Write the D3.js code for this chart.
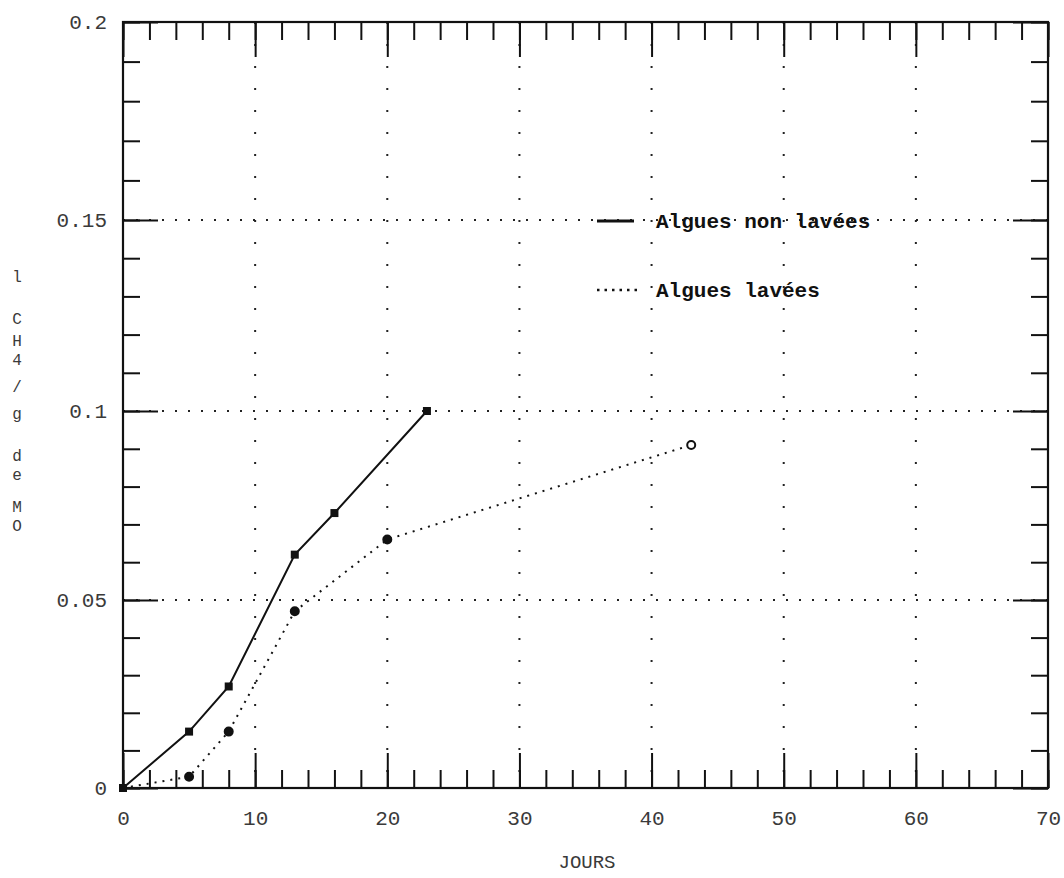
<!DOCTYPE html>
<html>
<head>
<meta charset="utf-8">
<script src="https://cdn.jsdelivr.net/npm/d3@7"></script>
<style>
  html, body { margin: 0; padding: 0; background: #fff; }
  svg { display: block; }
  .mono { font-family: "Liberation Mono", "DejaVu Sans Mono", monospace; }
</style>
</head>
<body>
<svg id="chart" width="1064" height="878"></svg>
<script>
// Production de méthane : algues non lavées / lavées
const joursNonLavees = [0, 5, 8, 13, 16, 23];
const ch4NonLavees   = [0, 0.015, 0.027, 0.062, 0.073, 0.1];

const joursLavees = [0, 5, 8, 13, 20, 43];
const ch4Lavees   = [0, 0.003, 0.015, 0.047, 0.066, 0.091];

const xMajorTicks = [0, 10, 20, 30, 40, 50, 60, 70];
const xTickLabels = ["0", "10", "20", "30", "40", "50", "60", "70"];
const yMajorTicks = [0, 0.05, 0.1, 0.15, 0.2];
const yTickLabels = ["0", "0.05", "0.1", "0.15", "0.2"];

const legendLabels = ["Algues non lavées", "Algues lavées"];
const xTitle = "JOURS";
const yTitleChars = ["l", "C", "H", "4", "/", "g", "d", "e", "M", "O"];

const svg = d3.select("#chart");
const L = 123, R = 1048, T = 22, B = 788;

const x = d3.scaleLinear().domain([0, 70]).range([L, R]);
// plotter paper is slightly stretched toward the top: piecewise-linear y scale
const y = d3.scaleLinear().domain(yMajorTicks).range([B, 600, 411, 220, T]);

const xMinor = d3.range(0, 71, 2);
const yMinor = d3.range(0, 21, 1).map(v => v / 100);

// dotted grid
const grid = svg.append("g").attr("stroke", "#222").attr("stroke-width", 2);
grid.selectAll("line.v").data(xMajorTicks.filter(d => d > 0 && d < 70)).join("line")
  .attr("x1", d => x(d)).attr("x2", d => x(d))
  .attr("y1", T).attr("y2", B)
  .attr("stroke-dasharray", "2,20");
grid.selectAll("line.h").data(yMajorTicks.filter(d => d > 0 && d < 0.2)).join("line")
  .attr("x1", L).attr("x2", R)
  .attr("y1", d => y(d)).attr("y2", d => y(d))
  .attr("stroke-dasharray", "2,11");

function styleAxis(g) {
  g.select(".domain").remove();
  g.selectAll(".tick line").attr("stroke", "#111").attr("stroke-width", 2);
}

// bottom axis
svg.append("g").attr("transform", `translate(0,${B})`)
  .call(d3.axisBottom(x).tickValues(xMinor).tickSize(-18).tickFormat(""))
  .call(styleAxis);
svg.append("g").attr("transform", `translate(0,${B})`)
  .call(d3.axisBottom(x).tickValues(xMajorTicks).tickSize(-35).tickPadding(22)
    .tickFormat((d, i) => xTickLabels[i]))
  .call(styleAxis)
  .call(g => g.selectAll("text").attr("class", "mono")
    .attr("font-size", 21).attr("fill", "#3a3a3a"));

// top axis
svg.append("g").attr("transform", `translate(0,${T})`)
  .call(d3.axisTop(x).tickValues(xMinor).tickSize(-18).tickFormat(""))
  .call(styleAxis);
svg.append("g").attr("transform", `translate(0,${T})`)
  .call(d3.axisTop(x).tickValues(xMajorTicks).tickSize(-35).tickFormat(""))
  .call(styleAxis);

// left axis
svg.append("g").attr("transform", `translate(${L},0)`)
  .call(d3.axisLeft(y).tickValues(yMinor).tickSize(-17).tickFormat(""))
  .call(styleAxis);
svg.append("g").attr("transform", `translate(${L},0)`)
  .call(d3.axisLeft(y).tickValues(yMajorTicks).tickSize(-35).tickPadding(16)
    .tickFormat((d, i) => yTickLabels[i]))
  .call(styleAxis)
  .call(g => g.selectAll("text").attr("class", "mono")
    .attr("font-size", 21).attr("fill", "#3a3a3a"));

// right axis
svg.append("g").attr("transform", `translate(${R},0)`)
  .call(d3.axisRight(y).tickValues(yMinor).tickSize(-17).tickFormat(""))
  .call(styleAxis);
svg.append("g").attr("transform", `translate(${R},0)`)
  .call(d3.axisRight(y).tickValues(yMajorTicks).tickSize(-35).tickFormat(""))
  .call(styleAxis);

// frame
svg.append("rect")
  .attr("x", L).attr("y", T).attr("width", R - L).attr("height", B - T)
  .attr("fill", "none").attr("stroke", "#111").attr("stroke-width", 2.2);

// series
const nonLavees = joursNonLavees.map((j, i) => [j, ch4NonLavees[i]]);
const lavees = joursLavees.map((j, i) => [j, ch4Lavees[i]]);
const line = d3.line().x(d => x(d[0])).y(d => y(d[1]));

svg.append("path").datum(lavees).attr("d", line)
  .attr("fill", "none").attr("stroke", "#111").attr("stroke-width", 2)
  .attr("stroke-dasharray", "2,6");
svg.append("path").datum(nonLavees).attr("d", line)
  .attr("fill", "none").attr("stroke", "#111").attr("stroke-width", 2);

svg.append("g").selectAll("rect").data(nonLavees).join("rect")
  .attr("x", d => x(d[0]) - 4).attr("y", d => y(d[1]) - 4)
  .attr("width", 8).attr("height", 8).attr("fill", "#111");

svg.append("g").selectAll("circle").data(lavees.slice(1)).join("circle")
  .attr("cx", d => x(d[0])).attr("cy", d => y(d[1])).attr("r", 4)
  .attr("fill", (d, i, n) => i === n.length - 1 ? "#fff" : "#111")
  .attr("stroke", "#111").attr("stroke-width", 2);

// legend
const leg = svg.append("g");
leg.append("line").attr("x1", 597).attr("x2", 634).attr("y1", 221).attr("y2", 221)
  .attr("stroke", "#111").attr("stroke-width", 3);
leg.append("line").attr("x1", 597).attr("x2", 640).attr("y1", 290).attr("y2", 290)
  .attr("stroke", "#111").attr("stroke-width", 2.5).attr("stroke-dasharray", "2.5,5");
leg.selectAll("text").data(legendLabels).join("text")
  .attr("class", "mono")
  .attr("x", 656).attr("y", (d, i) => i === 0 ? 228 : 297)
  .attr("font-size", 21).attr("font-weight", "bold").attr("fill", "#111")
  .text(d => d);

// axis titles
svg.append("text").attr("class", "mono")
  .attr("x", 587).attr("y", 868).attr("text-anchor", "middle")
  .attr("font-size", 19).attr("fill", "#3a3a3a")
  .text(xTitle);

const yTitlePos = [277, 319, 341, 360, 387, 414, 456, 475, 507, 526];
svg.append("g").selectAll("text").data(yTitleChars).join("text")
  .attr("class", "mono")
  .attr("x", 17).attr("y", (d, i) => yTitlePos[i] + 5)
  .attr("text-anchor", "middle")
  .attr("font-size", 16).attr("fill", "#3a3a3a")
  .text(d => d);
</script>
</body>
</html>
